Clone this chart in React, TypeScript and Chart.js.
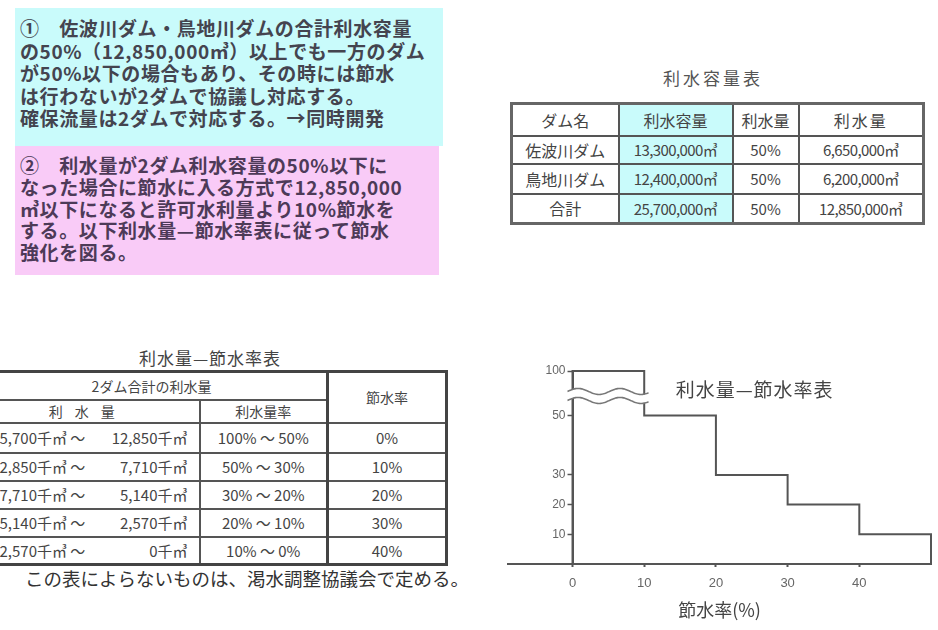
import React, { useEffect, useRef } from "react";
import { Chart, registerables, LinearScale } from "chart.js";

Chart.register(...registerables);

// ---------- chart data ----------
const savingRates = [0, 10, 20, 30, 40]; // 節水率 (%)
const usageRateUpper = [100, 50, 30, 20, 10]; // 利水量率 upper bound (%)
const xTickValues = [0, 10, 20, 30, 40];
const yTickValues = [10, 20, 30, 50, 100];
const xMinValue = -9;
const xMaxValue = 50;
const chartTitle = "利水量—節水率表";
const xAxisTitle = "節水率(%)";

// ---------- text / tables ----------
const box1Lines = [
  "①　佐波川ダム・鳥地川ダムの合計利水容量",
  "の50%（12,850,000㎥）以上でも一方のダム",
  "が50%以下の場合もあり、その時には節水",
  "は行わないが2ダムで協議し対応する。",
  "確保流量は2ダムで対応する。→同時開発",
];
const box2Lines = [
  "②　利水量が2ダム利水容量の50%以下に",
  "なった場合に節水に入る方式で12,850,000",
  "㎥以下になると許可水利量より10%節水を",
  "する。以下利水量—節水率表に従って節水",
  "強化を図る。",
];

const table1Title = "利水容量表";
const table1Headers = ["ダム名", "利水容量", "利水量", "利水量"];
const damNames = ["佐波川ダム", "鳥地川ダム", "合計"];
const damCapacities = ["13,300,000㎥", "12,400,000㎥", "25,700,000㎥"];
const damUsageRatios = ["50%", "50%", "50%"];
const damUsageAmounts = ["6,650,000㎥", "6,200,000㎥", "12,850,000㎥"];

const table2Title = "利水量—節水率表";
const usageFrom = ["25,700", "12,850", "7,710", "5,140", "2,570"];
const usageTo = ["12,850", "7,710", "5,140", "2,570", "0"];
const rateRanges = ["100% ～ 50%", "50% ～ 30%", "30% ～ 20%", "20% ～ 10%", "10% ～  0%"];
const savingLabels = ["0%", "10%", "20%", "30%", "40%"];
const footerText = "この表によらないものは、渇水調整協議会で定める。";

// ---------- broken y scale ----------
const BREAK_AT = 50;
const BREAK_RATIO = 0.3;
const compress = (v: number) => (v > BREAK_AT ? BREAK_AT + (v - BREAK_AT) * BREAK_RATIO : v);
const expand = (v: number) => (v > BREAK_AT ? BREAK_AT + (v - BREAK_AT) / BREAK_RATIO : v);

class BrokenLinearScale extends (LinearScale as any) {
  static id = "brokenLinear";
  static defaults = (LinearScale as any).defaults;
  getPixelForValue(value: number) {
    const lo = compress(this.min);
    const hi = compress(this.max);
    return this.getPixelForDecimal((compress(value) - lo) / (hi - lo));
  }
  getValueForPixel(pixel: number) {
    const lo = compress(this.min);
    const hi = compress(this.max);
    return expand(lo + this.getDecimalForPixel(pixel) * (hi - lo));
  }
}
Chart.register(BrokenLinearScale as any);

const FONT = '"Noto Sans CJK JP", "Noto Sans", sans-serif';
const NUM_FONT = '"Liberation Sans", Arial, sans-serif';

// place the y axis on x = 0 (the axis crosses the x axis at 0, not at its minimum)
const yAxisAtZeroPlugin = {
  id: "yAxisAtZero",
  afterLayout(chart: any) {
    const xs = chart.scales.x;
    const ys = chart.scales.y;
    const px = xs.getPixelForValue(0);
    const w = 40;
    ys.right = px;
    ys.left = px - w;
    ys.width = w;
  },
};

const breakPlugin = {
  id: "axisBreak",
  afterDatasetsDraw(chart: any) {
    const { ctx, scales } = chart;
    const xs = scales.x;
    const ys = scales.y;
    const x0 = xs.getPixelForValue(-0.7);
    const x1 = xs.getPixelForValue(10.7);
    const yc = ys.getPixelForValue(72);
    const amp = 3;
    const period = 42;
    const path = (off: number) => {
      ctx.beginPath();
      for (let px = x0; px <= x1; px += 1) {
        const py = yc + off - amp * Math.sin(((px - x0) / period) * 2 * Math.PI);
        if (px === x0) ctx.moveTo(px, py);
        else ctx.lineTo(px, py);
      }
      ctx.stroke();
    };
    ctx.save();
    ctx.strokeStyle = "#ffffff";
    ctx.lineWidth = 8;
    path(0);
    ctx.strokeStyle = "#777777";
    ctx.lineWidth = 1.6;
    path(-4.5);
    path(4.5);
    ctx.restore();
  },
};

const innerTitlePlugin = {
  id: "innerTitle",
  afterDraw(chart: any) {
    const { ctx, scales } = chart;
    ctx.save();
    ctx.font = `19px ${FONT}`;
    ctx.fillStyle = "#444";
    ctx.textAlign = "center";
    ctx.textBaseline = "middle";
    try {
      (ctx as any).letterSpacing = "1px";
    } catch (e) {}
    ctx.fillText(chartTitle, scales.x.getPixelForValue(25.4), scales.y.top + 19);
    ctx.restore();
  },
};

function StepChart() {
  const ref = useRef<HTMLCanvasElement | null>(null);
  useEffect(() => {
    if (!ref.current) return;
    const points = [
      { x: savingRates[0], y: 0 },
      ...savingRates.map((r, i) => ({ x: r, y: usageRateUpper[i] })),
      { x: xMaxValue, y: 0 },
    ];
    const chart = new Chart(ref.current, {
      type: "line",
      data: {
        datasets: [
          {
            data: points,
            stepped: "before",
            borderColor: "#555",
            borderWidth: 2,
            pointRadius: 0,
            fill: false,
            clip: 8,
          },
        ],
      },
      options: {
        animation: false,
        responsive: false,
        maintainAspectRatio: false,
        layout: { padding: { left: 8, right: 7, top: 16, bottom: 0 } },
        plugins: {
          legend: { display: false },
          tooltip: { enabled: false },
          title: { display: false },
        },
        scales: {
          x: {
            type: "linear",
            min: xMinValue,
            max: xMaxValue,
            position: "bottom",
            afterBuildTicks: (s: any) => {
              s.ticks = xTickValues.map((v) => ({ value: v }));
            },
            afterFit: (s: any) => {
              s.height = 66;
            },
            grid: { drawOnChartArea: false, drawTicks: true, tickLength: 3, tickWidth: 2, color: "#555" },
            border: { display: true, color: "#555", width: 2 },
            ticks: { color: "#666", font: { size: 13, family: NUM_FONT }, padding: 9 },
            title: {
              display: true,
              text: xAxisTitle,
              color: "#444",
              font: { size: 18, family: FONT },
              padding: { top: 2, bottom: 9 },
            },
          },
          y: {
            type: "brokenLinear",
            min: 0,
            max: 100,
            position: "left",
            afterBuildTicks: (s: any) => {
              s.ticks = yTickValues.map((v) => ({ value: v }));
            },
            afterFit: (s: any) => {
              s.width = 0;
            },
            grid: { drawOnChartArea: false, drawTicks: true, tickLength: 5, tickWidth: 1.5, color: "#555" },
            border: { display: true, color: "#555", width: 2 },
            ticks: { color: "#666", font: { size: 12, family: NUM_FONT }, padding: 2 },
          },
        } as any,
      },
      plugins: [yAxisAtZeroPlugin, breakPlugin, innerTitlePlugin],
    } as any);
    return () => chart.destroy();
  }, []);
  return (
    <canvas
      ref={ref}
      width={438}
      height={275}
      style={{ position: "absolute", left: 500, top: 355, width: 438, height: 275 }}
    />
  );
}

const cellBorder = "2px solid #555";

export default function App() {
  const t1Cols = [107, 114, 66, 125];
  const t1Rows = [32, 28, 30, 30];
  const t2Cols = [224, 128, 119];
  const cyan = "#c9fbfb";
  const pink = "#f9cbf7";
  const tdBase: React.CSSProperties = {
    border: cellBorder,
    padding: 0,
    textAlign: "center",
    verticalAlign: "middle",
    whiteSpace: "nowrap",
    overflow: "hidden",
  };
  return (
    <div
      style={{
        position: "absolute",
        left: 0,
        top: 0,
        width: 938,
        height: 630,
        overflow: "hidden",
        background: "#fff",
        fontFamily: FONT,
      }}
    >
      {/* Box 1 */}
      <div
        style={{
          position: "absolute",
          left: 15,
          top: 8,
          width: 428,
          height: 138,
          background: cyan,
          boxSizing: "border-box",
          padding: "9px 0 0 5px",
          color: "#44444f",
          fontWeight: 700,
          fontSize: 19,
          letterSpacing: 0.6,
          lineHeight: "22.5px",
          whiteSpace: "nowrap",
        }}
      >
        {box1Lines.map((l, i) => (
          <div key={i}>{l}</div>
        ))}
      </div>
      {/* Box 2 */}
      <div
        style={{
          position: "absolute",
          left: 15,
          top: 146,
          width: 424,
          height: 129,
          background: pink,
          boxSizing: "border-box",
          padding: "8px 0 0 5px",
          color: "#4d3a58",
          fontWeight: 700,
          fontSize: 19,
          letterSpacing: 0.6,
          lineHeight: "21.8px",
          whiteSpace: "nowrap",
        }}
      >
        {box2Lines.map((l, i) => (
          <div key={i}>{l}</div>
        ))}
      </div>

      {/* Table 1 */}
      <div
        style={{
          position: "absolute",
          left: 611,
          top: 66,
          width: 204,
          textAlign: "center",
          fontSize: 17,
          letterSpacing: 3,
          color: "#555",
          lineHeight: "24px",
        }}
      >
        {table1Title}
      </div>
      <table
        style={{
          position: "absolute",
          left: 510,
          top: 102,
          borderCollapse: "collapse",
          tableLayout: "fixed",
          width: 414,
          border: "3px solid #666",
          fontSize: 15,
          color: "#444",
        }}
      >
        <colgroup>
          {t1Cols.map((w, i) => (
            <col key={i} style={{ width: w }} />
          ))}
        </colgroup>
        <tbody>
          <tr style={{ height: t1Rows[0] }}>
            {table1Headers.map((h, i) => (
              <td key={i} style={{ ...tdBase, background: i === 1 ? cyan : "#fff", fontSize: 16, letterSpacing: i === 3 ? 2 : 0 }}>
                {h}
              </td>
            ))}
          </tr>
          {damNames.map((n, i) => (
            <tr key={i} style={{ height: t1Rows[i + 1] }}>
              <td style={{ ...tdBase, fontSize: 16 }}>{n}</td>
              <td style={{ ...tdBase, background: cyan, fontSize: 15, letterSpacing: -0.6 }}>{damCapacities[i]}</td>
              <td style={{ ...tdBase, fontSize: 15 }}>{damUsageRatios[i]}</td>
              <td style={{ ...tdBase, fontSize: 15, letterSpacing: -0.6 }}>{damUsageAmounts[i]}</td>
            </tr>
          ))}
        </tbody>
      </table>

      {/* Table 2 */}
      <div
        style={{
          position: "absolute",
          left: 100,
          top: 346,
          width: 220,
          textAlign: "center",
          fontSize: 17,
          letterSpacing: 1,
          color: "#444",
          lineHeight: "24px",
        }}
      >
        {table2Title}
      </div>
      <table
        style={{
          position: "absolute",
          left: -26,
          top: 370,
          borderCollapse: "collapse",
          tableLayout: "fixed",
          width: 473,
          border: "3px solid #444",
          fontSize: 15,
          color: "#444",
        }}
      >
        <colgroup>
          {t2Cols.map((w, i) => (
            <col key={i} style={{ width: w }} />
          ))}
        </colgroup>
        <tbody>
          <tr style={{ height: 28 }}>
            <td colSpan={2} style={{ ...tdBase, borderRight: "3px solid #444", fontSize: 14 }}>
              2ダム合計の利水量
            </td>
            <td rowSpan={2} style={{ ...tdBase, fontSize: 14 }}>
              節水率
            </td>
          </tr>
          <tr style={{ height: 23 }}>
            <td style={{ ...tdBase, letterSpacing: 12, fontSize: 14 }}>利水量</td>
            <td style={{ ...tdBase, borderRight: "3px solid #444", fontSize: 14 }}>利水量率</td>
          </tr>
          {usageFrom.map((f, i) => (
            <tr key={i} style={{ height: i === 0 ? 30 : 28 }}>
              <td style={{ ...tdBase, textAlign: "left" }}>
                <div style={{ display: "flex", alignItems: "center", paddingRight: 11 }}>
                  <span style={{ display: "inline-block", width: 60, textAlign: "right" }}>{f}</span>
                  <span>千㎥ ～</span>
                  <span style={{ flex: 1, textAlign: "right" }}>{usageTo[i]}千㎥</span>
                </div>
              </td>
              <td style={{ ...tdBase, borderRight: "3px solid #444" }}>{rateRanges[i]}</td>
              <td style={{ ...tdBase }}>{savingLabels[i]}</td>
            </tr>
          ))}
        </tbody>
      </table>
      <div
        style={{
          position: "absolute",
          left: 25,
          top: 566,
          fontSize: 18.5,
          color: "#333",
          whiteSpace: "nowrap",
          lineHeight: "24px",
        }}
      >
        {footerText}
      </div>

      <StepChart />
    </div>
  );
}
